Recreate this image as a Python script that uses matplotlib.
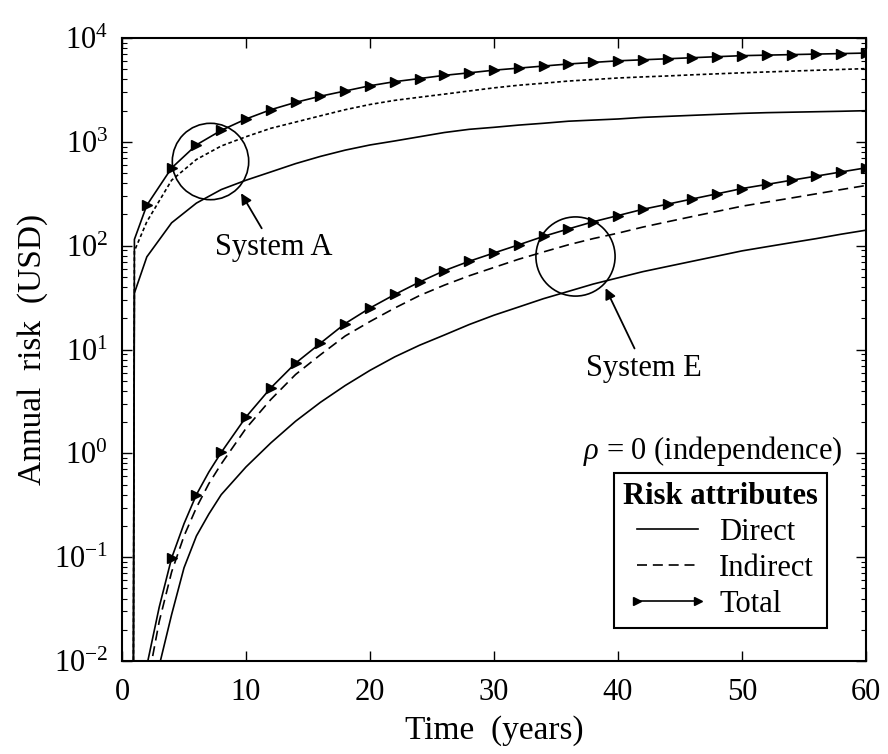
import matplotlib
matplotlib.use("Agg")
import matplotlib.pyplot as plt
from matplotlib.lines import Line2D

plt.rcParams["font.family"] = ["Liberation Serif", "DejaVu Serif"]
plt.rcParams["mathtext.fontset"] = "custom"
plt.rcParams["mathtext.rm"] = "Liberation Serif"
plt.rcParams["mathtext.it"] = "Liberation Serif:italic"

# System A (annual risk, USD)
t_a = [0.9, 1, 2, 4, 6, 8, 10, 12, 14, 16, 18, 20, 22, 24, 26, 28, 30, 32, 34, 36, 38,
       40, 42, 44, 46, 48, 50, 52, 54, 56, 58, 60]
a_direct = [0.001, 35, 78, 166, 257, 347, 427, 513, 617, 724, 832, 933, 1020, 1120, 1230, 1320,
            1380, 1450, 1510, 1580, 1620, 1660, 1720, 1760, 1800, 1840, 1880, 1910, 1930, 1950, 1970, 1995]
a_indirect = [0.001, 89, 170, 427, 676, 912, 1120, 1350, 1550, 1780, 2040, 2290, 2510, 2690, 2880, 3090,
              3310, 3510, 3670, 3850, 3980, 4120, 4220, 4310, 4420, 4520, 4620, 4710, 4800, 4890, 4980, 5070]
a_total = [0.001, 115, 245, 560, 935, 1290, 1660, 2040, 2400, 2750, 3090, 3470, 3800, 4070, 4370, 4620,
           4900, 5130, 5370, 5620, 5820, 6030, 6170, 6310, 6460, 6610, 6760, 6840, 6920, 7000, 7080, 7160]

# System E (annual risk, USD)
t_e = [2, 3, 4, 5, 6, 7, 8, 10, 12, 14, 16, 18, 20, 22, 24, 26, 28, 30, 32, 34, 36, 38,
       40, 42, 44, 46, 48, 50, 52, 54, 56, 58, 60]
e_direct = [0.0025, 0.009, 0.028, 0.079, 0.16, 0.26, 0.40, 0.74, 1.26, 2.04, 3.1, 4.5, 6.3, 8.5,
            11.0, 13.8, 17.4, 21.4, 25.7, 30.9, 36.3, 42.7, 49.0, 56.2, 63.1, 70.8, 79.4, 89.1,
            97.7, 107, 117, 129, 141]
e_indirect = [0.0056, 0.024, 0.072, 0.16, 0.30, 0.51, 0.79, 1.74, 3.3, 5.75, 8.9, 13.5, 18.6, 25.1,
              33.1, 41.7, 51.3, 61.7, 74.1, 87.1, 102, 117, 132, 151, 170, 191, 214, 240,
              263, 288, 316, 347, 380]
e_total = [0.009, 0.033, 0.098, 0.21, 0.40, 0.66, 1.02, 2.24, 4.27, 7.4, 11.5, 17.8, 25.1, 33.9,
           44.7, 57.5, 70.8, 85.1, 102, 123, 145, 170, 195, 224, 251, 282, 316, 355,
           389, 427, 468, 513, 562]

fig = plt.figure(figsize=(8.88, 7.54), dpi=100)
ax = fig.add_axes([0.1374, 0.1233, 0.8378, 0.8263])

lw = 1.2
short_dash = (2.2, 1.6)
long_dash = (6, 3.5)

# markers only on the even years
marks_a = [i for i, t in enumerate(t_a) if t >= 2 and t % 2 == 0]
marks_e = [i for i, t in enumerate(t_e) if t >= 4 and t % 2 == 0]

ax.plot(t_a, a_direct, color="black", lw=lw)
ax.plot(t_a, a_indirect, color="black", lw=lw, dashes=short_dash)
ax.plot(t_a, a_total, color="black", lw=lw, marker=">", ms=7, markevery=marks_a)

ax.plot(t_e, e_direct, color="black", lw=lw)
ax.plot(t_e, e_indirect, color="black", lw=lw, dashes=long_dash)
ax.plot(t_e, e_total, color="black", lw=lw, marker=">", ms=7, markevery=marks_e)

# circles marking each system
ax.plot([7.1], [657], marker="o", ms=55, mfc="none", mec="black", mew=1.2)
ax.plot([36.5], [80], marker="o", ms=57, mfc="none", mec="black", mew=1.2)

arrow = dict(arrowstyle="-|>", color="black", lw=1.3, mutation_scale=16, shrinkA=2, shrinkB=0)
ax.annotate("System A", xy=(9.6, 320), xytext=(12.2, 95), ha="center", va="center",
            fontsize=22, arrowprops=arrow)
ax.annotate("System E", xy=(39.0, 39), xytext=(42.1, 6.6), ha="center", va="center",
            fontsize=22, arrowprops=arrow)

ax.text(0.968, 0.337, r"$\it{\rho}$ = 0 (independence)", transform=ax.transAxes,
        ha="right", va="center", fontsize=22)

ax.set_yscale("log")
ax.set_xlim(0, 60)
ax.set_ylim(1e-2, 1e4)
ax.set_xticks([0, 10, 20, 30, 40, 50, 60])
ax.tick_params(which="both", direction="in", top=True, right=True, labelsize=22)
ax.tick_params(which="major", length=7, width=1)
ax.tick_params(which="minor", length=3.5, width=0.8)
ax.tick_params(axis="x", pad=12)
ax.tick_params(axis="y", pad=10)
for s in ax.spines.values():
    s.set_linewidth(1.5)

ax.set_xlabel("Time  (years)", fontsize=24)
ax.set_ylabel("Annual  risk  (USD)", fontsize=24)
ax.xaxis.set_label_coords(0.5, -0.087)
ax.yaxis.set_label_coords(-0.099, 0.5)

handles = [
    Line2D([], [], color="black", lw=lw),
    Line2D([], [], color="black", lw=lw, dashes=long_dash),
    Line2D([], [], color="black", lw=lw, marker=">", ms=6),
]
leg = ax.legend(handles, ["Direct", "Indirect", "Total"], title="Risk attributes",
                loc="upper right", bbox_to_anchor=(0.948, 0.302), fontsize=22,
                title_fontproperties={"weight": "bold", "size": 22},
                fancybox=False, edgecolor="black", framealpha=1, numpoints=2,
                handlelength=2.6, handletextpad=0.4, labelspacing=0.23,
                borderpad=0.3, borderaxespad=0)
leg.get_frame().set_linewidth(1.5)

fig.savefig("out.png", dpi=100)
